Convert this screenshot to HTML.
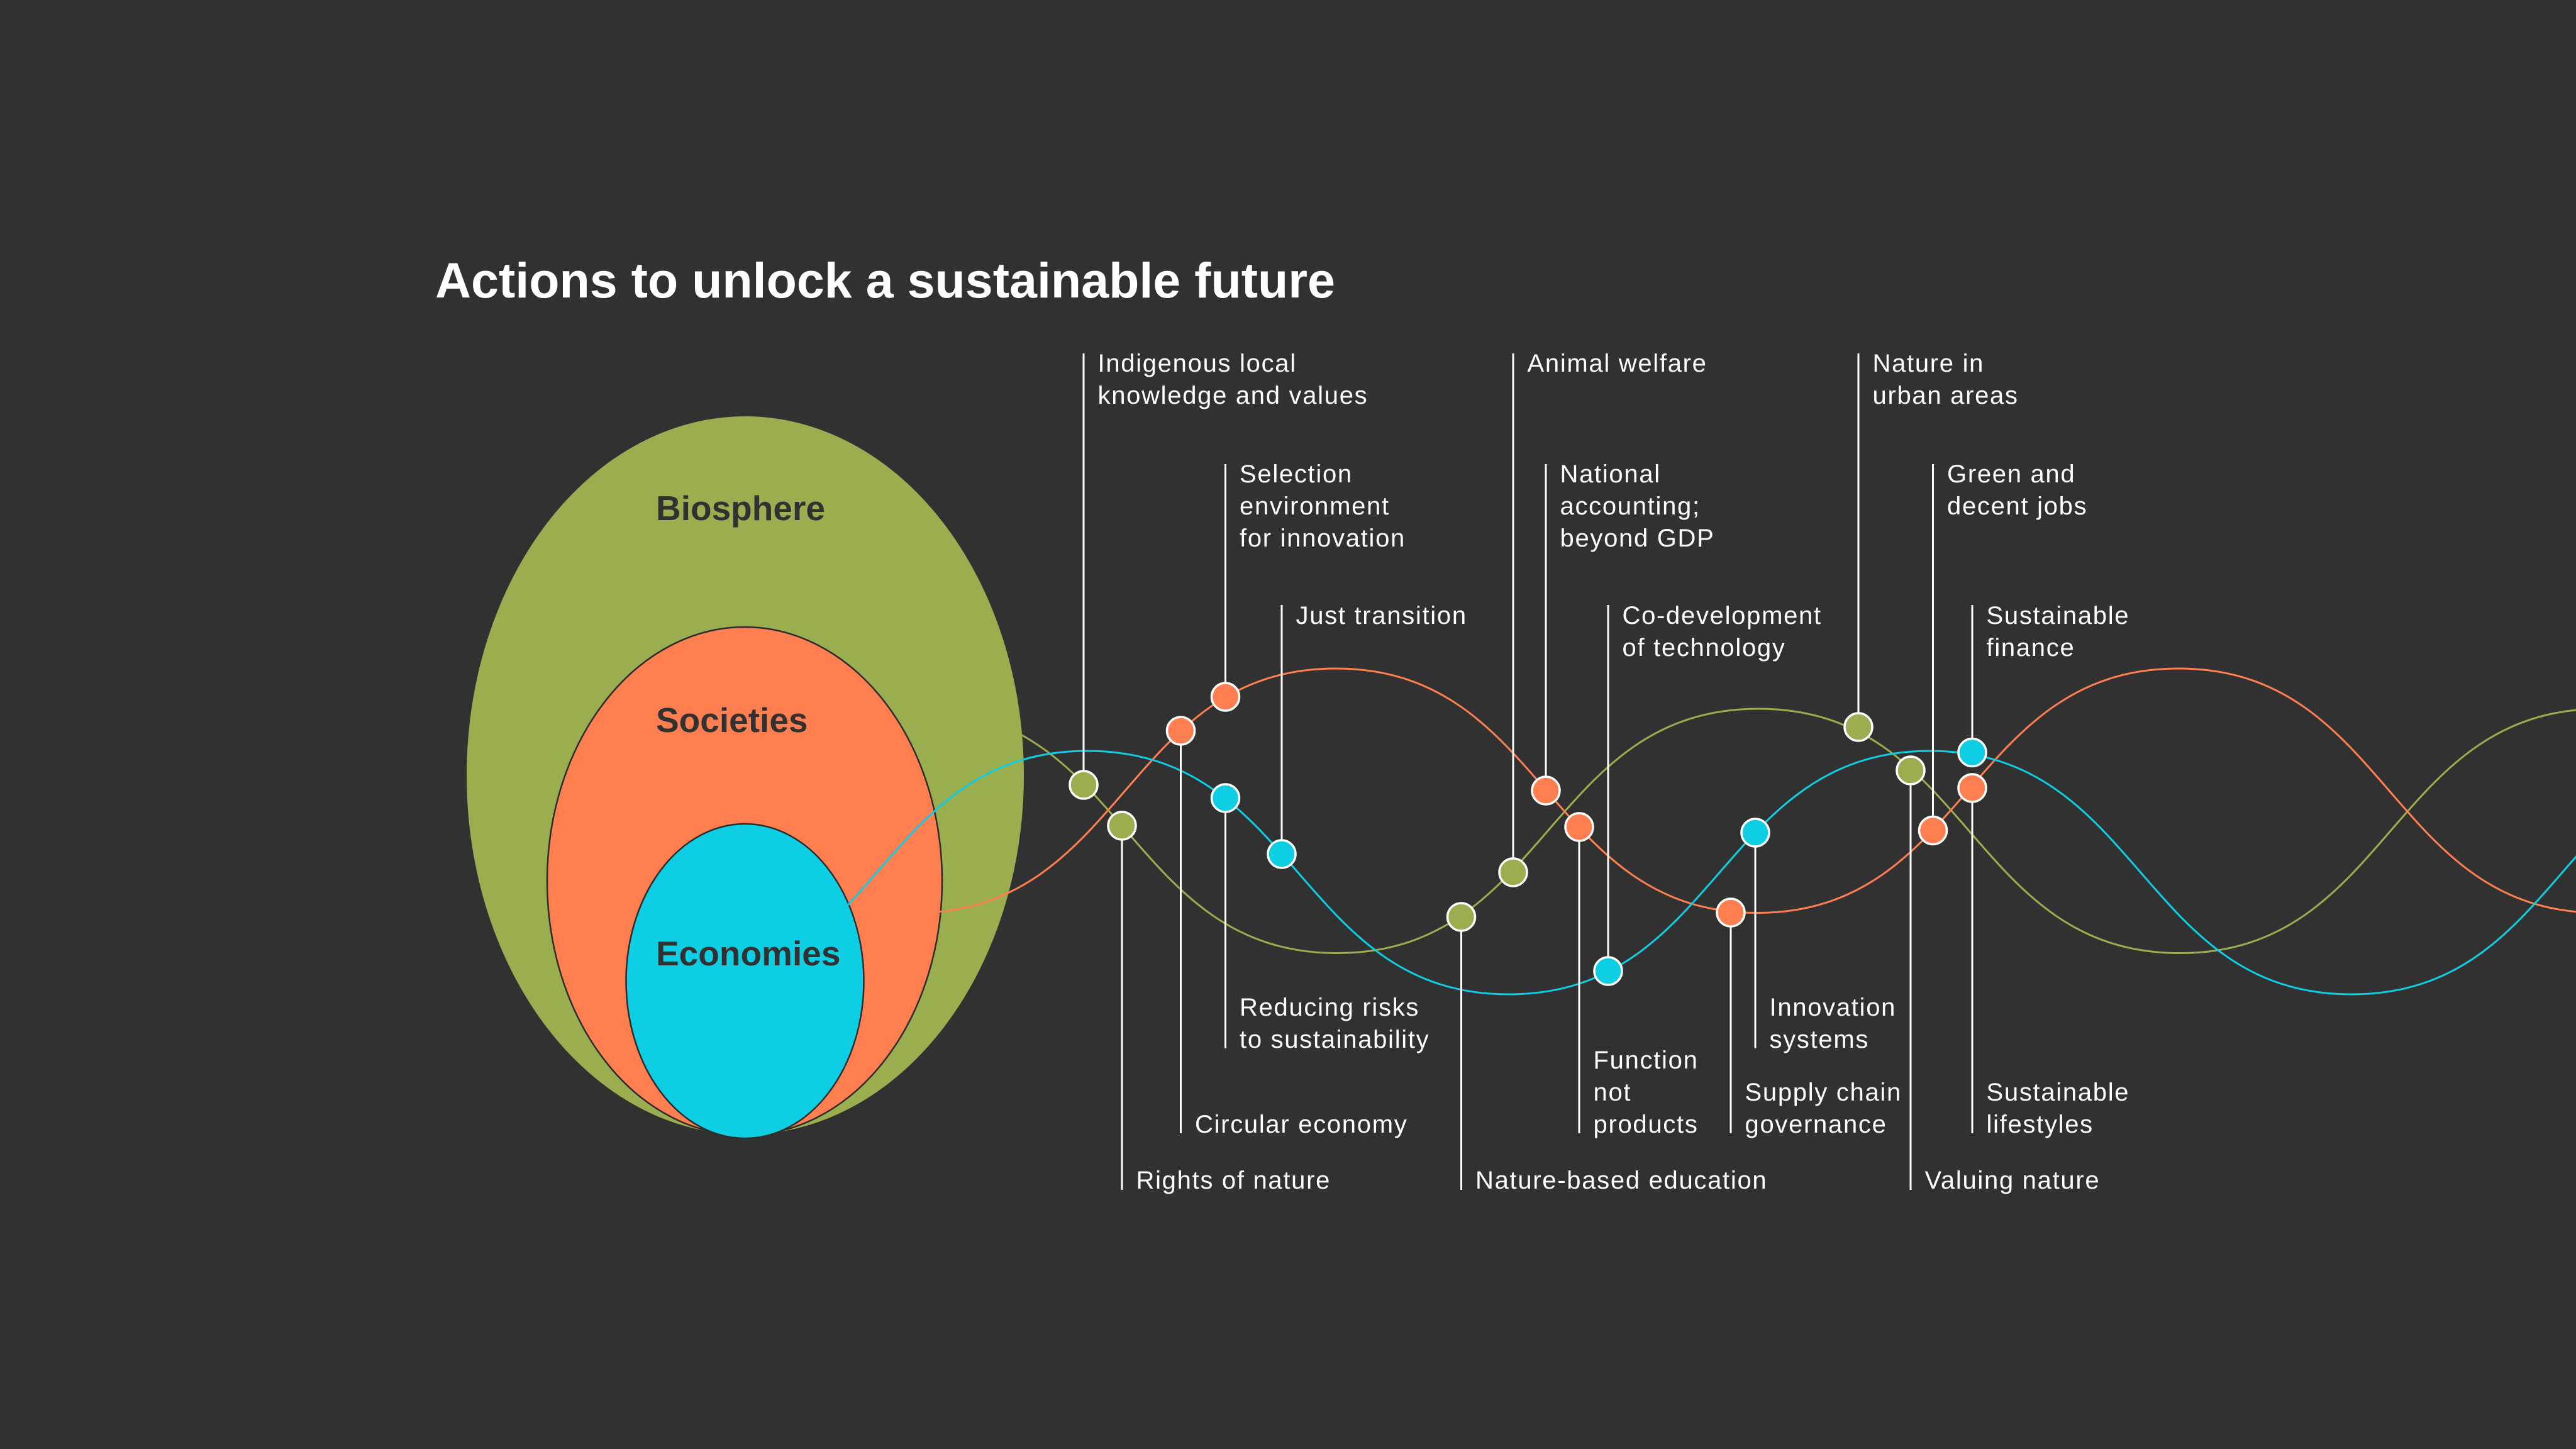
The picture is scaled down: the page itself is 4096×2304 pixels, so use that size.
<!DOCTYPE html>
<html>
<head>
<meta charset="utf-8">
<style>
html,body{margin:0;padding:0;background:#313131;}
svg{display:block;}
.lbl{font-family:"Liberation Sans",Arial,sans-serif;font-size:40px;letter-spacing:1.7px;fill:#ffffff;}
.eln{font-family:"Liberation Sans",Arial,sans-serif;font-size:55px;font-weight:bold;fill:#313131;}
</style>
</head>
<body>
<svg width="4096" height="2304" viewBox="0 0 4096 2304" xmlns="http://www.w3.org/2000/svg">
<defs>
<mask id="mG" maskUnits="userSpaceOnUse" x="0" y="0" width="4096" height="2304">
<rect x="0" y="0" width="4096" height="2304" fill="#fff"/>
<ellipse cx="1185" cy="1233" rx="442" ry="571" fill="#000"/>
</mask>
<mask id="mO" maskUnits="userSpaceOnUse" x="0" y="0" width="4096" height="2304">
<rect x="0" y="0" width="4096" height="2304" fill="#fff"/>
<ellipse cx="1184" cy="1401" rx="313" ry="404" fill="#000"/>
</mask>
<mask id="mC" maskUnits="userSpaceOnUse" x="0" y="0" width="4096" height="2304">
<rect x="0" y="0" width="4096" height="2304" fill="#fff"/>
<ellipse cx="1184.5" cy="1560" rx="188" ry="250" fill="#000"/>
</mask>
</defs>

<rect x="0" y="0" width="4096" height="2304" fill="#313131"/>

<!-- Title -->
<text x="692" y="473" font-family="'Liberation Sans',Arial,sans-serif" font-size="79" font-weight="bold" fill="#ffffff">Actions to unlock a sustainable future</text>

<!-- Nested ellipses -->
<ellipse cx="1185" cy="1233" rx="443" ry="571" fill="#9AAD4F"/>
<ellipse cx="1184" cy="1401" rx="314" ry="404" fill="#FF7F51" stroke="#2c2c2c" stroke-width="2.5"/>
<ellipse cx="1184.5" cy="1560" rx="189" ry="250" fill="#0DCEE3" stroke="#2c2c2c" stroke-width="2.5"/>

<text class="eln" x="1043" y="827">Biosphere</text>
<text class="eln" x="1043" y="1164">Societies</text>
<text class="eln" x="1043" y="1535">Economies</text>

<!-- Curves -->
<g fill="none" stroke-width="3">
<path mask="url(#mG)" stroke="#9AAD4F" d="M1456,1127 C1791,1127 1791,1515.5 2126,1515.5 C2461,1515.5 2461,1127 2796,1127 C3131,1127 3131,1515.5 3466,1515.5 C3801,1515.5 3801,1127 4136,1127"/>
<path mask="url(#mO)" stroke="#FF7F51" d="M1454,1451.5 C1789,1451.5 1789,1063 2124,1063 C2459,1063 2459,1451.5 2794,1451.5 C3129,1451.5 3129,1063 3464,1063 C3799,1063 3799,1451.5 4134,1451.5"/>
<path mask="url(#mC)" stroke="#0DCEE3" d="M1059,1581 C1394,1581 1394,1194 1729,1194 C2064,1194 2064,1581 2399,1581 C2734,1581 2734,1194 3069,1194 C3404,1194 3404,1581 3739,1581 C4074,1581 4074,1194 4409,1194"/>
</g>

<!-- Leader lines -->
<g stroke="#ffffff" stroke-width="3" fill="none">
<line x1="1723" y1="562" x2="1723" y2="1248"/>
<line x1="1784" y1="1313" x2="1784" y2="1892"/>
<line x1="1877.5" y1="1162" x2="1877.5" y2="1802"/>
<line x1="1948.5" y1="738" x2="1948.5" y2="1108"/>
<line x1="1948.5" y1="1269" x2="1948.5" y2="1667"/>
<line x1="2038" y1="962" x2="2038" y2="1358"/>
<line x1="2323.5" y1="1458" x2="2323.5" y2="1892"/>
<line x1="2406" y1="562" x2="2406" y2="1387"/>
<line x1="2458" y1="738" x2="2458" y2="1257"/>
<line x1="2511" y1="1315" x2="2511" y2="1802"/>
<line x1="2557" y1="962" x2="2557" y2="1544"/>
<line x1="2752" y1="1451" x2="2752" y2="1802"/>
<line x1="2791" y1="1324" x2="2791" y2="1667"/>
<line x1="2955" y1="562" x2="2955" y2="1156"/>
<line x1="3038" y1="1225" x2="3038" y2="1892"/>
<line x1="3073.5" y1="738" x2="3073.5" y2="1320.5"/>
<line x1="3136" y1="962" x2="3136" y2="1196.5"/>
<line x1="3136" y1="1253" x2="3136" y2="1802"/>
</g>

<!-- Dots -->
<g stroke="#ffffff" stroke-width="3.5">
<circle cx="1723" cy="1248" r="22" fill="#9AAD4F"/>
<circle cx="1784" cy="1313" r="22" fill="#9AAD4F"/>
<circle cx="1877.5" cy="1162" r="22" fill="#FF7F51"/>
<circle cx="1948.5" cy="1108" r="22" fill="#FF7F51"/>
<circle cx="1948.5" cy="1269" r="22" fill="#0DCEE3"/>
<circle cx="2038" cy="1358" r="22" fill="#0DCEE3"/>
<circle cx="2323.5" cy="1458" r="22" fill="#9AAD4F"/>
<circle cx="2406" cy="1387" r="22" fill="#9AAD4F"/>
<circle cx="2458" cy="1257" r="22" fill="#FF7F51"/>
<circle cx="2511" cy="1315" r="22" fill="#FF7F51"/>
<circle cx="2557" cy="1544" r="22" fill="#0DCEE3"/>
<circle cx="2752" cy="1451" r="22" fill="#FF7F51"/>
<circle cx="2791" cy="1324" r="22" fill="#0DCEE3"/>
<circle cx="2955" cy="1156" r="22" fill="#9AAD4F"/>
<circle cx="3038" cy="1225" r="22" fill="#9AAD4F"/>
<circle cx="3073.5" cy="1320.5" r="22" fill="#FF7F51"/>
<circle cx="3136" cy="1196.5" r="22" fill="#0DCEE3"/>
<circle cx="3136" cy="1253" r="22" fill="#FF7F51"/>
</g>

<!-- Labels -->
<text class="lbl" x="1745.5" y="591">Indigenous local</text>
<text class="lbl" x="1745.5" y="642">knowledge and values</text>

<text class="lbl" x="1806.5" y="1890">Rights of nature</text>

<text class="lbl" x="1900" y="1801">Circular economy</text>

<text class="lbl" x="1971" y="767">Selection</text>
<text class="lbl" x="1971" y="818">environment</text>
<text class="lbl" x="1971" y="869">for innovation</text>

<text class="lbl" x="1971" y="1615">Reducing risks</text>
<text class="lbl" x="1971" y="1666">to sustainability</text>

<text class="lbl" x="2060.5" y="992">Just transition</text>

<text class="lbl" x="2346" y="1890">Nature-based education</text>

<text class="lbl" x="2428.5" y="591">Animal welfare</text>

<text class="lbl" x="2480.5" y="767">National</text>
<text class="lbl" x="2480.5" y="818">accounting;</text>
<text class="lbl" x="2480.5" y="869">beyond GDP</text>

<text class="lbl" x="2533.5" y="1699">Function</text>
<text class="lbl" x="2533.5" y="1750">not</text>
<text class="lbl" x="2533.5" y="1801">products</text>

<text class="lbl" x="2579.5" y="992">Co-development</text>
<text class="lbl" x="2579.5" y="1043">of technology</text>

<text class="lbl" x="2774.5" y="1750">Supply chain</text>
<text class="lbl" x="2774.5" y="1801">governance</text>

<text class="lbl" x="2813.5" y="1615">Innovation</text>
<text class="lbl" x="2813.5" y="1666">systems</text>

<text class="lbl" x="2977.5" y="591">Nature in</text>
<text class="lbl" x="2977.5" y="642">urban areas</text>

<text class="lbl" x="3060.5" y="1890">Valuing nature</text>

<text class="lbl" x="3096" y="767">Green and</text>
<text class="lbl" x="3096" y="818">decent jobs</text>

<text class="lbl" x="3158.5" y="992">Sustainable</text>
<text class="lbl" x="3158.5" y="1043">finance</text>

<text class="lbl" x="3158.5" y="1750">Sustainable</text>
<text class="lbl" x="3158.5" y="1801">lifestyles</text>
</svg>
</body>
</html>
